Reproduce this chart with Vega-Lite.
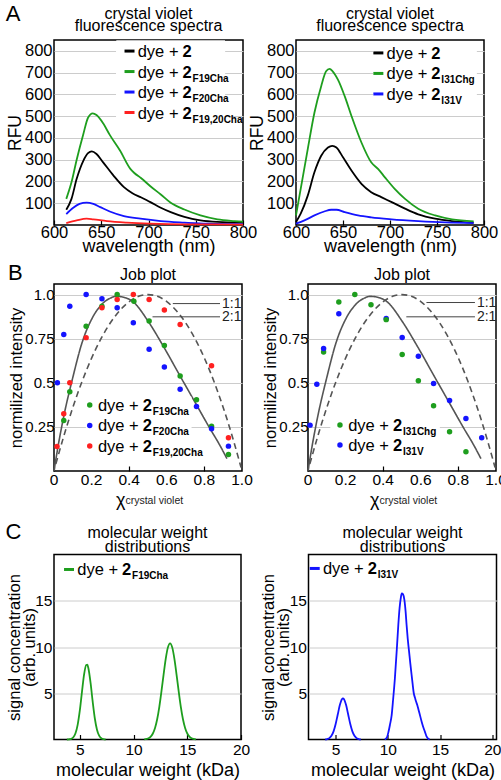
{
"$schema":"https://vega.github.io/schema/vega-lite/v6.json",
"background":"white",
"padding":{"left":5,"right":5,"top":2,"bottom":0},
"config":{
 "font":"Liberation Sans",
 "view":{"stroke":"#000","strokeWidth":1.5},
 "axis":{"labelFontSize":16.5,"labelColor":"#000","titleFontSize":17.5,"titleFontWeight":"normal","titleColor":"#000","domain":false,"ticks":false,"labelPadding":2,"titlePadding":0,"labelFlush":false,"labelOverlap":false},
 "axisX":{"grid":false,"ticks":true,"tickSize":-5,"tickColor":"#000","tickWidth":1.2,"labelPadding":4,"titleFontSize":18,"titlePadding":-3,"labelOverlap":false},
 "axisY":{"grid":true,"gridColor":"#cccccc","gridWidth":1},
 "title":{"fontSize":16,"fontWeight":"normal","lineHeight":12.5,"offset":6,"color":"#000","frame":"group"}
},
"datasets":{
 "specA1":[
  {"wl":613,"rfu":70,"s":"2"},{"wl":618.5,"rfu":120,"s":"2"},{"wl":624,"rfu":212,"s":"2"},{"wl":631,"rfu":295,"s":"2"},{"wl":636,"rfu":330,"s":"2"},{"wl":640,"rfu":338,"s":"2"},{"wl":645,"rfu":326,"s":"2"},{"wl":652,"rfu":288,"s":"2"},{"wl":663,"rfu":227,"s":"2"},{"wl":674,"rfu":174,"s":"2"},{"wl":683,"rfu":146,"s":"2"},{"wl":691.5,"rfu":128,"s":"2"},{"wl":702,"rfu":105,"s":"2"},{"wl":713,"rfu":79,"s":"2"},{"wl":723.5,"rfu":59,"s":"2"},{"wl":738,"rfu":37,"s":"2"},{"wl":755,"rfu":21,"s":"2"},{"wl":773,"rfu":14,"s":"2"},{"wl":800,"rfu":11,"s":"2"},
  {"wl":613,"rfu":120,"s":"2F19Cha"},{"wl":618.5,"rfu":196,"s":"2F19Cha"},{"wl":624,"rfu":300,"s":"2F19Cha"},{"wl":631,"rfu":417,"s":"2F19Cha"},{"wl":636,"rfu":493,"s":"2F19Cha"},{"wl":641,"rfu":513,"s":"2F19Cha"},{"wl":645,"rfu":505,"s":"2F19Cha"},{"wl":652,"rfu":467,"s":"2F19Cha"},{"wl":659,"rfu":414,"s":"2F19Cha"},{"wl":670,"rfu":341,"s":"2F19Cha"},{"wl":681,"rfu":257,"s":"2F19Cha"},{"wl":685,"rfu":239,"s":"2F19Cha"},{"wl":692,"rfu":216,"s":"2F19Cha"},{"wl":702,"rfu":178,"s":"2F19Cha"},{"wl":713,"rfu":140,"s":"2F19Cha"},{"wl":723.5,"rfu":102,"s":"2F19Cha"},{"wl":738,"rfu":71,"s":"2F19Cha"},{"wl":755,"rfu":44,"s":"2F19Cha"},{"wl":773,"rfu":26,"s":"2F19Cha"},{"wl":791,"rfu":18,"s":"2F19Cha"},{"wl":800,"rfu":15,"s":"2F19Cha"},
  {"wl":613,"rfu":50,"s":"2F20Cha"},{"wl":620,"rfu":78,"s":"2F20Cha"},{"wl":627,"rfu":97,"s":"2F20Cha"},{"wl":634.5,"rfu":103,"s":"2F20Cha"},{"wl":641.6,"rfu":97,"s":"2F20Cha"},{"wl":649,"rfu":82,"s":"2F20Cha"},{"wl":659,"rfu":62,"s":"2F20Cha"},{"wl":674,"rfu":41,"s":"2F20Cha"},{"wl":691.5,"rfu":29,"s":"2F20Cha"},{"wl":713,"rfu":18,"s":"2F20Cha"},{"wl":738,"rfu":11,"s":"2F20Cha"},{"wl":762,"rfu":6,"s":"2F20Cha"},{"wl":800,"rfu":4,"s":"2F20Cha"},
  {"wl":613,"rfu":9,"s":"2F19,20Cha"},{"wl":624,"rfu":21,"s":"2F19,20Cha"},{"wl":634.5,"rfu":29,"s":"2F19,20Cha"},{"wl":641.6,"rfu":26,"s":"2F19,20Cha"},{"wl":656,"rfu":18,"s":"2F19,20Cha"},{"wl":677,"rfu":11,"s":"2F19,20Cha"},{"wl":702,"rfu":6,"s":"2F19,20Cha"},{"wl":738,"rfu":3,"s":"2F19,20Cha"},{"wl":773,"rfu":3,"s":"2F19,20Cha"},{"wl":800,"rfu":2,"s":"2F19,20Cha"}
 ],
 "specA2":[
  {"wl":600,"rfu":14,"s":"2"},{"wl":605,"rfu":52,"s":"2"},{"wl":612.5,"rfu":135,"s":"2"},{"wl":619.6,"rfu":242,"s":"2"},{"wl":626.8,"rfu":318,"s":"2"},{"wl":634,"rfu":356,"s":"2"},{"wl":638.6,"rfu":364,"s":"2"},{"wl":643,"rfu":356,"s":"2"},{"wl":650,"rfu":311,"s":"2"},{"wl":659,"rfu":250,"s":"2"},{"wl":669.6,"rfu":189,"s":"2"},{"wl":680,"rfu":151,"s":"2"},{"wl":690.7,"rfu":128,"s":"2"},{"wl":701.8,"rfu":105,"s":"2"},{"wl":716,"rfu":75,"s":"2"},{"wl":730,"rfu":49,"s":"2"},{"wl":748,"rfu":29,"s":"2"},{"wl":766,"rfu":18,"s":"2"},{"wl":789,"rfu":11,"s":"2"},
  {"wl":600,"rfu":44,"s":"2I31Chg"},{"wl":605,"rfu":166,"s":"2I31Chg"},{"wl":612.5,"rfu":349,"s":"2I31Chg"},{"wl":619.6,"rfu":516,"s":"2I31Chg"},{"wl":626.8,"rfu":638,"s":"2I31Chg"},{"wl":632,"rfu":706,"s":"2I31Chg"},{"wl":635.7,"rfu":717,"s":"2I31Chg"},{"wl":639,"rfu":706,"s":"2I31Chg"},{"wl":644.6,"rfu":668,"s":"2I31Chg"},{"wl":651.8,"rfu":592,"s":"2I31Chg"},{"wl":659,"rfu":501,"s":"2I31Chg"},{"wl":669.6,"rfu":379,"s":"2I31Chg"},{"wl":680,"rfu":288,"s":"2I31Chg"},{"wl":687.5,"rfu":257,"s":"2I31Chg"},{"wl":694.6,"rfu":219,"s":"2I31Chg"},{"wl":705,"rfu":166,"s":"2I31Chg"},{"wl":716,"rfu":120,"s":"2I31Chg"},{"wl":730,"rfu":75,"s":"2I31Chg"},{"wl":748,"rfu":44,"s":"2I31Chg"},{"wl":766,"rfu":26,"s":"2I31Chg"},{"wl":789,"rfu":17,"s":"2I31Chg"},
  {"wl":600,"rfu":6,"s":"2I31V"},{"wl":609,"rfu":21,"s":"2I31V"},{"wl":619.6,"rfu":44,"s":"2I31V"},{"wl":630,"rfu":62,"s":"2I31V"},{"wl":637.5,"rfu":70,"s":"2I31V"},{"wl":643,"rfu":70,"s":"2I31V"},{"wl":651.8,"rfu":59,"s":"2I31V"},{"wl":666,"rfu":44,"s":"2I31V"},{"wl":680,"rfu":35,"s":"2I31V"},{"wl":701.8,"rfu":26,"s":"2I31V"},{"wl":730,"rfu":18,"s":"2I31V"},{"wl":759,"rfu":12,"s":"2I31V"},{"wl":789,"rfu":9,"s":"2I31V"}
 ],
 "legA1":[{"s":"2","sub":"","r":0},{"s":"2F19Cha","sub":"F19Cha","r":1},{"s":"2F20Cha","sub":"F20Cha","r":2},{"s":"2F19,20Cha","sub":"F19,20Cha","r":3}],
 "legA2":[{"s":"2","sub":"","r":0},{"s":"2I31Chg","sub":"I31Chg","r":1},{"s":"2I31V","sub":"I31V","r":2}],
 "legB1":[{"s":"2F19Cha","sub":"F19Cha","r":0},{"s":"2F20Cha","sub":"F20Cha","r":1},{"s":"2F19,20Cha","sub":"F19,20Cha","r":2}],
 "legB2":[{"s":"2I31Chg","sub":"I31Chg","r":0},{"s":"2I31V","sub":"I31V","r":1}],
 "legC1":[{"s":"2F19Cha","sub":"F19Cha","r":0}],
 "legC2":[{"s":"2I31V","sub":"I31V","r":0}],
 "ticksB":[{"v":0,"l":"0"},{"v":0.2,"l":"0.2"},{"v":0.4,"l":"0.4"},{"v":0.6,"l":"0.6"},{"v":0.8,"l":"0.8"},{"v":1,"l":"1.0"}],
 "curvesB":[
  {"x":0,"y":0,"k":"2:1"},{"x":0.02,"y":0.13,"k":"2:1"},{"x":0.05,"y":0.3,"k":"2:1"},{"x":0.1,"y":0.53,"k":"2:1"},{"x":0.15,"y":0.73,"k":"2:1"},{"x":0.2,"y":0.86,"k":"2:1"},{"x":0.25,"y":0.94,"k":"2:1"},{"x":0.3,"y":0.98,"k":"2:1"},{"x":0.33,"y":0.99,"k":"2:1"},{"x":0.37,"y":0.985,"k":"2:1"},{"x":0.42,"y":0.96,"k":"2:1"},{"x":0.5,"y":0.85,"k":"2:1"},{"x":0.58,"y":0.71,"k":"2:1"},{"x":0.67,"y":0.54,"k":"2:1"},{"x":0.75,"y":0.39,"k":"2:1"},{"x":0.83,"y":0.24,"k":"2:1"},{"x":0.88,"y":0.15,"k":"2:1"},{"x":0.92,"y":0.07,"k":"2:1"},
  {"x":0.01,"y":0.04,"k":"1:1"},{"x":0.05,"y":0.19,"k":"1:1"},{"x":0.1,"y":0.36,"k":"1:1"},{"x":0.15,"y":0.51,"k":"1:1"},{"x":0.2,"y":0.64,"k":"1:1"},{"x":0.25,"y":0.75,"k":"1:1"},{"x":0.3,"y":0.84,"k":"1:1"},{"x":0.35,"y":0.91,"k":"1:1"},{"x":0.4,"y":0.96,"k":"1:1"},{"x":0.45,"y":0.99,"k":"1:1"},{"x":0.5,"y":1.0,"k":"1:1"},{"x":0.55,"y":0.99,"k":"1:1"},{"x":0.6,"y":0.96,"k":"1:1"},{"x":0.65,"y":0.91,"k":"1:1"},{"x":0.7,"y":0.84,"k":"1:1"},{"x":0.75,"y":0.75,"k":"1:1"},{"x":0.8,"y":0.64,"k":"1:1"},{"x":0.85,"y":0.51,"k":"1:1"},{"x":0.9,"y":0.36,"k":"1:1"},{"x":0.95,"y":0.19,"k":"1:1"},{"x":0.995,"y":0.02,"k":"1:1"}
 ],
 "ptsB1":[
  {"x":0.052,"y":0.286,"s":"2F19Cha"},{"x":0.084,"y":0.449,"s":"2F19Cha"},{"x":0.171,"y":0.821,"s":"2F19Cha"},{"x":0.255,"y":0.934,"s":"2F19Cha"},{"x":0.336,"y":1.0,"s":"2F19Cha"},{"x":0.425,"y":0.962,"s":"2F19Cha"},{"x":0.506,"y":0.85,"s":"2F19Cha"},{"x":0.587,"y":0.712,"s":"2F19Cha"},{"x":0.671,"y":0.539,"s":"2F19Cha"},{"x":0.758,"y":0.404,"s":"2F19Cha"},{"x":0.838,"y":0.254,"s":"2F19Cha"},{"x":0.928,"y":0.094,"s":"2F19Cha"},
  {"x":0.018,"y":0.5,"s":"2F20Cha"},{"x":0.052,"y":0.774,"s":"2F20Cha"},{"x":0.084,"y":0.934,"s":"2F20Cha"},{"x":0.171,"y":1.0,"s":"2F20Cha"},{"x":0.255,"y":0.977,"s":"2F20Cha"},{"x":0.336,"y":0.925,"s":"2F20Cha"},{"x":0.422,"y":0.84,"s":"2F20Cha"},{"x":0.506,"y":0.69,"s":"2F20Cha"},{"x":0.587,"y":0.59,"s":"2F20Cha"},{"x":0.671,"y":0.464,"s":"2F20Cha"},{"x":0.758,"y":0.365,"s":"2F20Cha"},{"x":0.838,"y":0.239,"s":"2F20Cha"},{"x":0.928,"y":0.141,"s":"2F20Cha"},
  {"x":0.016,"y":0.139,"s":"2F19,20Cha"},{"x":0.052,"y":0.325,"s":"2F19,20Cha"},{"x":0.084,"y":0.5,"s":"2F19,20Cha"},{"x":0.171,"y":0.756,"s":"2F19,20Cha"},{"x":0.255,"y":0.925,"s":"2F19,20Cha"},{"x":0.336,"y":0.972,"s":"2F19,20Cha"},{"x":0.422,"y":1.0,"s":"2F19,20Cha"},{"x":0.506,"y":0.972,"s":"2F19,20Cha"},{"x":0.587,"y":0.912,"s":"2F19,20Cha"},{"x":0.671,"y":0.831,"s":"2F19,20Cha"},{"x":0.838,"y":0.596,"s":"2F19,20Cha"},{"x":0.928,"y":0.188,"s":"2F19,20Cha"}
 ],
 "ptsB2":[
  {"x":0.083,"y":0.675,"s":"2I31Chg"},{"x":0.164,"y":0.958,"s":"2I31Chg"},{"x":0.249,"y":1.0,"s":"2I31Chg"},{"x":0.335,"y":0.943,"s":"2I31Chg"},{"x":0.501,"y":0.66,"s":"2I31Chg"},{"x":0.587,"y":0.511,"s":"2I31Chg"},{"x":0.668,"y":0.37,"s":"2I31Chg"},{"x":0.753,"y":0.223,"s":"2I31Chg"},{"x":0.84,"y":0.109,"s":"2I31Chg"},
  {"x":0.011,"y":0.26,"s":"2I31V"},{"x":0.047,"y":0.492,"s":"2I31V"},{"x":0.083,"y":0.694,"s":"2I31V"},{"x":0.164,"y":0.892,"s":"2I31V"},{"x":0.416,"y":0.864,"s":"2I31V"},{"x":0.501,"y":0.757,"s":"2I31V"},{"x":0.587,"y":0.651,"s":"2I31V"},{"x":0.668,"y":0.496,"s":"2I31V"},{"x":0.753,"y":0.4,"s":"2I31V"},{"x":0.84,"y":0.298,"s":"2I31V"},{"x":0.924,"y":0.189,"s":"2I31V"},
  {"x":0.416,"y":0.858,"s":"2I31Chg"}
 ],
 "annB1":[{"x":0.632,"x2":0.883,"y":0.949,"t":"1:1"},{"x":0.524,"x2":0.883,"y":0.874,"t":"2:1"}],
 "annB2":[{"x":0.63,"x2":0.888,"y":0.955,"t":"1:1"},{"x":0.523,"x2":0.888,"y":0.874,"t":"2:1"}],
 "subB":[{"t":"crystal violet"}],
 "mwC1":[
  {"m":3.8,"c":0,"p":"a"},{"m":4.0,"c":0.02,"p":"a"},{"m":4.2,"c":0.07,"p":"a"},{"m":4.4,"c":0.24,"p":"a"},{"m":4.6,"c":0.67,"p":"a"},{"m":4.8,"c":1.58,"p":"a"},{"m":5.0,"c":3.11,"p":"a"},{"m":5.2,"c":5.12,"p":"a"},{"m":5.4,"c":7.03,"p":"a"},{"m":5.6,"c":8.05,"p":"a"},{"m":5.7,"c":8.08,"p":"a"},{"m":5.8,"c":7.7,"p":"a"},{"m":6.0,"c":6.14,"p":"a"},{"m":6.2,"c":4.09,"p":"a"},{"m":6.4,"c":2.27,"p":"a"},{"m":6.6,"c":1.05,"p":"a"},{"m":6.8,"c":0.41,"p":"a"},{"m":7.0,"c":0.13,"p":"a"},{"m":7.2,"c":0.03,"p":"a"},{"m":7.4,"c":0,"p":"a"},
  {"m":11.0,"c":0.01,"p":"b"},{"m":11.2,"c":0.06,"p":"b"},{"m":11.4,"c":0.14,"p":"b"},{"m":11.6,"c":0.31,"p":"b"},{"m":11.8,"c":0.65,"p":"b"},{"m":12.0,"c":1.25,"p":"b"},{"m":12.2,"c":2.19,"p":"b"},{"m":12.4,"c":3.53,"p":"b"},{"m":12.6,"c":5.22,"p":"b"},{"m":12.8,"c":7.05,"p":"b"},{"m":13.0,"c":8.75,"p":"b"},{"m":13.2,"c":9.96,"p":"b"},{"m":13.4,"c":10.4,"p":"b"},{"m":13.6,"c":9.96,"p":"b"},{"m":13.8,"c":8.75,"p":"b"},{"m":14.0,"c":7.05,"p":"b"},{"m":14.2,"c":5.22,"p":"b"},{"m":14.4,"c":3.53,"p":"b"},{"m":14.6,"c":2.19,"p":"b"},{"m":14.8,"c":1.25,"p":"b"},{"m":15.0,"c":0.65,"p":"b"},{"m":15.2,"c":0.31,"p":"b"},{"m":15.4,"c":0.14,"p":"b"},{"m":15.6,"c":0.06,"p":"b"},{"m":15.8,"c":0.01,"p":"b"}
 ],
 "mwC2":[
  {"m":4.0,"c":0,"p":"a"},{"m":4.2,"c":0.05,"p":"a"},{"m":4.4,"c":0.15,"p":"a"},{"m":4.6,"c":0.4,"p":"a"},{"m":4.8,"c":0.88,"p":"a"},{"m":5.0,"c":1.67,"p":"a"},{"m":5.2,"c":2.7,"p":"a"},{"m":5.4,"c":3.72,"p":"a"},{"m":5.6,"c":4.36,"p":"a"},{"m":5.7,"c":4.45,"p":"a"},{"m":5.8,"c":4.36,"p":"a"},{"m":6.0,"c":3.72,"p":"a"},{"m":6.2,"c":2.7,"p":"a"},{"m":6.4,"c":1.67,"p":"a"},{"m":6.6,"c":0.88,"p":"a"},{"m":6.8,"c":0.4,"p":"a"},{"m":7.0,"c":0.15,"p":"a"},{"m":7.2,"c":0.05,"p":"a"},{"m":7.4,"c":0,"p":"a"},
  {"m":9.7,"c":0,"p":"b"},{"m":9.9,"c":0.2,"p":"b"},{"m":10.06,"c":0.83,"p":"b"},{"m":10.2,"c":1.6,"p":"b"},{"m":10.36,"c":2.6,"p":"b"},{"m":10.5,"c":4.3,"p":"b"},{"m":10.67,"c":6.6,"p":"b"},{"m":10.88,"c":10.2,"p":"b"},{"m":11.0,"c":12.4,"p":"b"},{"m":11.12,"c":14.2,"p":"b"},{"m":11.25,"c":15.4,"p":"b"},{"m":11.33,"c":15.8,"p":"b"},{"m":11.45,"c":15.7,"p":"b"},{"m":11.58,"c":15.1,"p":"b"},{"m":11.7,"c":13.8,"p":"b"},{"m":11.79,"c":12.4,"p":"b"},{"m":11.9,"c":10.9,"p":"b"},{"m":12.03,"c":9.5,"p":"b"},{"m":12.15,"c":8.2,"p":"b"},{"m":12.27,"c":7.0,"p":"b"},{"m":12.38,"c":5.9,"p":"b"},{"m":12.48,"c":5.0,"p":"b"},{"m":12.6,"c":4.5,"p":"b"},{"m":12.7,"c":4.1,"p":"b"},{"m":12.82,"c":3.7,"p":"b"},{"m":12.94,"c":3.2,"p":"b"},{"m":13.1,"c":2.5,"p":"b"},{"m":13.24,"c":1.9,"p":"b"},{"m":13.4,"c":1.3,"p":"b"},{"m":13.55,"c":0.83,"p":"b"},{"m":13.7,"c":0.35,"p":"b"},{"m":13.85,"c":0.1,"p":"b"},{"m":14.0,"c":0,"p":"b"}
 ]
},
"vconcat":[
 {"vconcat":[
  {"title":{"text":"A","anchor":"start","frame":"bounds","fontSize":22,"offset":-21},
   "hconcat":[
    {"width":189,"height":185,
     "title":{"text":["crystal violet","fluorescence spectra"]},
     "layer":[
      {"data":{"name":"specA1"},
       "mark":{"type":"line","interpolate":"monotone","strokeWidth":1.8},
       "encoding":{
        "x":{"field":"wl","type":"quantitative","scale":{"domain":[600,800],"nice":false,"zero":false},"axis":{"values":[600,650,700,750,800],"title":"wavelength (nm)","labelOverlap":false}},
        "y":{"field":"rfu","type":"quantitative","scale":{"domain":[0,850],"nice":false},"axis":{"values":[100,200,300,400,500,600,700,800],"title":"RFU"}},
        "color":{"field":"s","type":"nominal","scale":{"domain":["2","2F19Cha","2F20Cha","2F19,20Cha"],"range":["#000000","#1e9e1e","#1414ff","#ff2020"]},"legend":null}
       }},
      {"data":{"name":"legA1"},
       "encoding":{
        "x":{"datum":736,"type":"quantitative"},
        "y":{"field":"r","type":"quantitative","scale":{"domain":[-0.54,8.49],"reverse":true,"nice":false,"zero":false},"axis":null},
        "color":{"field":"s","type":"nominal","legend":null}
       },
       "layer":[
        {"mark":{"type":"rect"},"encoding":{"x":{"datum":666},"x2":{"datum":781},"y":{"datum":-0.5},"y2":{"datum":3.55},"color":{"value":"#ffffff"}}},
        {"mark":{"type":"point","shape":"M-1,-0.3L1,-0.3L1,0.3L-1,0.3Z","filled":true,"size":100,"opacity":1,"xOffset":-53}},
        {"mark":{"type":"text","text":"dye +","align":"right","baseline":"middle","dx":-4,"dy":1,"fontSize":16.5},"encoding":{"color":{"value":"#000"}}},
        {"mark":{"type":"text","text":"2","align":"left","baseline":"middle","dy":1,"fontSize":16.5,"fontWeight":"bold"},"encoding":{"color":{"value":"#000"}}},
        {"mark":{"type":"text","align":"left","baseline":"middle","dx":10,"dy":7,"fontSize":10,"fontWeight":"bold"},"encoding":{"text":{"field":"sub"},"color":{"value":"#000"}}}
       ]}
     ],
     "resolve":{"scale":{"y":"independent"}}},
    {"width":188,"height":185,
     "title":{"text":["crystal violet","fluorescence spectra"]},
     "layer":[
      {"data":{"name":"specA2"},
       "mark":{"type":"line","interpolate":"monotone","strokeWidth":1.8},
       "encoding":{
        "x":{"field":"wl","type":"quantitative","scale":{"domain":[600,800],"nice":false,"zero":false},"axis":{"values":[600,650,700,750,800],"title":"wavelength (nm)","labelOverlap":false}},
        "y":{"field":"rfu","type":"quantitative","scale":{"domain":[0,850],"nice":false},"axis":{"values":[100,200,300,400,500,600,700,800],"title":"RFU"}},
        "color":{"field":"s","type":"nominal","scale":{"domain":["2","2I31Chg","2I31V"],"range":["#000000","#1e9e1e","#1414ff"]},"legend":null}
       }},
      {"data":{"name":"legA2"},
       "encoding":{
        "x":{"datum":744,"type":"quantitative"},
        "y":{"field":"r","type":"quantitative","scale":{"domain":[-0.63,8.39],"reverse":true,"nice":false,"zero":false},"axis":null},
        "color":{"field":"s","type":"nominal","legend":null}
       },
       "layer":[
        {"mark":{"type":"rect"},"encoding":{"x":{"datum":682},"x2":{"datum":792},"y":{"datum":-0.5},"y2":{"datum":2.55},"color":{"value":"#ffffff"}}},
        {"mark":{"type":"point","shape":"M-1,-0.3L1,-0.3L1,0.3L-1,0.3Z","filled":true,"size":100,"opacity":1,"xOffset":-53}},
        {"mark":{"type":"text","text":"dye +","align":"right","baseline":"middle","dx":-4,"dy":1,"fontSize":16.5},"encoding":{"color":{"value":"#000"}}},
        {"mark":{"type":"text","text":"2","align":"left","baseline":"middle","dy":1,"fontSize":16.5,"fontWeight":"bold"},"encoding":{"color":{"value":"#000"}}},
        {"mark":{"type":"text","align":"left","baseline":"middle","dx":10,"dy":7,"fontSize":10,"fontWeight":"bold"},"encoding":{"text":{"field":"sub"},"color":{"value":"#000"}}}
       ]}
     ],
     "resolve":{"scale":{"y":"independent"}}}
   ],
   "spacing":-11,"resolve":{"scale":{"color":"independent","strokeDash":"independent"}}},
  {"title":{"text":"B","anchor":"start","frame":"bounds","fontSize":22,"offset":-19},
   "hconcat":[
    {"width":188,"height":187,
     "title":{"text":"Job plot","offset":1},
     "layer":[
      {"data":{"name":"curvesB"},
       "mark":{"type":"line","interpolate":"monotone","strokeWidth":1.6,"color":"#555555"},
       "encoding":{
        "x":{"field":"x","type":"quantitative","scale":{"domain":[0,1],"nice":false},"axis":{"values":[0,0.2,0.4,0.6,0.8,1],"labels":false,"title":"χ","titleFontSize":18,"titleAlign":"right","titleX":71,"titlePadding":20}},
        "y":{"field":"y","type":"quantitative","scale":{"domain":[0,1.06],"nice":false},"axis":{"values":[0.25,0.5,0.75,1],"labelExpr":"datum.value == 1 ? '1.0' : format(datum.value, '.2~f')","labelFontSize":15,"labelPadding":0,"title":"normilized intensity","titleFontSize":16.5}},
        "strokeDash":{"field":"k","type":"nominal","scale":{"domain":["2:1","1:1"],"range":[[1,0],[6,4]]},"legend":null}
       }},
      {"data":{"name":"ticksB"},"mark":{"type":"text","align":"center","baseline":"top","dy":2,"fontSize":15.5,"color":"#000"},
       "encoding":{"x":{"field":"v","type":"quantitative"},"y":{"datum":0,"type":"quantitative","scale":{"domain":[0,1.06],"nice":false},"axis":null},"text":{"field":"l"}}},
      {"data":{"name":"annB1"},"mark":{"type":"rule","color":"#444444","strokeWidth":1},
       "encoding":{"x":{"field":"x","type":"quantitative"},"x2":{"field":"x2"},"y":{"field":"y","type":"quantitative","scale":{"domain":[0,1.06],"nice":false},"axis":null}}},
      {"data":{"name":"annB1"},"mark":{"type":"text","align":"left","baseline":"middle","dx":2,"fontSize":14,"color":"#222222"},
       "encoding":{"x":{"field":"x2","type":"quantitative"},"y":{"field":"y","type":"quantitative","scale":{"domain":[0,1.06],"nice":false},"axis":null},"text":{"field":"t"}}},
      {"data":{"name":"subB"},"mark":{"type":"text","align":"left","baseline":"middle","fontSize":10.5,"color":"#222222"},
       "encoding":{"x":{"datum":0.38,"type":"quantitative"},"y":{"datum":-0.17,"type":"quantitative","scale":{"domain":[0,1.06],"nice":false},"axis":null},"text":{"field":"t"}}},
      {"data":{"name":"ptsB1"},"mark":{"type":"circle","size":30,"opacity":1},
       "encoding":{"x":{"field":"x","type":"quantitative"},"y":{"field":"y","type":"quantitative","scale":{"domain":[0,1.06],"nice":false},"axis":null},
        "color":{"field":"s","type":"nominal","scale":{"domain":["2F19Cha","2F20Cha","2F19,20Cha"],"range":["#1e9e1e","#1414ff","#ff2020"]},"legend":null}}},
      {"data":{"name":"legB1"},"mark":{"type":"rect"},
       "encoding":{"x":{"datum":0.17,"type":"quantitative"},"x2":{"datum":0.73},"y":{"datum":-0.4,"type":"quantitative","scale":{"domain":[-5.9,3.22],"reverse":true,"nice":false,"zero":false},"axis":null},"y2":{"datum":2.4},"color":{"value":"#ffffff"}}},
      {"data":{"name":"legB1"},"mark":{"type":"circle","size":30,"opacity":1,"xOffset":-53},
       "encoding":{"x":{"datum":0.472,"type":"quantitative"},"y":{"field":"r","type":"quantitative","scale":{"domain":[-5.9,3.22],"reverse":true,"nice":false,"zero":false},"axis":null},"color":{"field":"s","type":"nominal","legend":null}}},
      {"data":{"name":"legB1"},"mark":{"type":"text","text":"dye +","align":"right","baseline":"middle","dx":-4,"dy":1,"fontSize":16.5,"color":"#000"},
       "encoding":{"x":{"datum":0.472,"type":"quantitative"},"y":{"field":"r","type":"quantitative","scale":{"domain":[-5.9,3.22],"reverse":true,"nice":false,"zero":false},"axis":null}}},
      {"data":{"name":"legB1"},"mark":{"type":"text","text":"2","align":"left","baseline":"middle","dy":1,"fontSize":16.5,"fontWeight":"bold","color":"#000"},
       "encoding":{"x":{"datum":0.472,"type":"quantitative"},"y":{"field":"r","type":"quantitative","scale":{"domain":[-5.9,3.22],"reverse":true,"nice":false,"zero":false},"axis":null}}},
      {"data":{"name":"legB1"},"mark":{"type":"text","align":"left","baseline":"middle","dx":10,"dy":7,"fontSize":10,"fontWeight":"bold","color":"#000"},
       "encoding":{"x":{"datum":0.472,"type":"quantitative"},"y":{"field":"r","type":"quantitative","scale":{"domain":[-5.9,3.22],"reverse":true,"nice":false,"zero":false},"axis":null},"text":{"field":"sub"}}}
     ],
     "resolve":{"scale":{"y":"independent"}}},
    {"width":188,"height":187,
     "title":{"text":"Job plot","offset":1},
     "layer":[
      {"data":{"name":"curvesB"},
       "mark":{"type":"line","interpolate":"monotone","strokeWidth":1.6,"color":"#555555"},
       "encoding":{
        "x":{"field":"x","type":"quantitative","scale":{"domain":[0,1],"nice":false},"axis":{"values":[0,0.2,0.4,0.6,0.8,1],"labels":false,"title":"χ","titleFontSize":18,"titleAlign":"right","titleX":71,"titlePadding":20}},
        "y":{"field":"y","type":"quantitative","scale":{"domain":[0,1.06],"nice":false},"axis":{"values":[0.25,0.5,0.75,1],"labelExpr":"datum.value == 1 ? '1.0' : format(datum.value, '.2~f')","labelFontSize":15,"labelPadding":0,"title":"normilized intensity","titleFontSize":16.5}},
        "strokeDash":{"field":"k","type":"nominal","scale":{"domain":["2:1","1:1"],"range":[[1,0],[6,4]]},"legend":null}
       }},
      {"data":{"name":"ticksB"},"mark":{"type":"text","align":"center","baseline":"top","dy":2,"fontSize":15.5,"color":"#000"},
       "encoding":{"x":{"field":"v","type":"quantitative"},"y":{"datum":0,"type":"quantitative","scale":{"domain":[0,1.06],"nice":false},"axis":null},"text":{"field":"l"}}},
      {"data":{"name":"annB2"},"mark":{"type":"rule","color":"#444444","strokeWidth":1},
       "encoding":{"x":{"field":"x","type":"quantitative"},"x2":{"field":"x2"},"y":{"field":"y","type":"quantitative","scale":{"domain":[0,1.06],"nice":false},"axis":null}}},
      {"data":{"name":"annB2"},"mark":{"type":"text","align":"left","baseline":"middle","dx":2,"fontSize":14,"color":"#222222"},
       "encoding":{"x":{"field":"x2","type":"quantitative"},"y":{"field":"y","type":"quantitative","scale":{"domain":[0,1.06],"nice":false},"axis":null},"text":{"field":"t"}}},
      {"data":{"name":"subB"},"mark":{"type":"text","align":"left","baseline":"middle","fontSize":10.5,"color":"#222222"},
       "encoding":{"x":{"datum":0.38,"type":"quantitative"},"y":{"datum":-0.17,"type":"quantitative","scale":{"domain":[0,1.06],"nice":false},"axis":null},"text":{"field":"t"}}},
      {"data":{"name":"ptsB2"},"mark":{"type":"circle","size":30,"opacity":1},
       "encoding":{"x":{"field":"x","type":"quantitative"},"y":{"field":"y","type":"quantitative","scale":{"domain":[0,1.06],"nice":false},"axis":null},
        "color":{"field":"s","type":"nominal","scale":{"domain":["2I31Chg","2I31V"],"range":["#1e9e1e","#1414ff"]},"legend":null}}},
      {"data":{"name":"legB2"},"mark":{"type":"rect"},
       "encoding":{"x":{"datum":0.12,"type":"quantitative"},"x2":{"datum":0.7},"y":{"datum":-0.45,"type":"quantitative","scale":{"domain":[-7.05,2.3],"reverse":true,"nice":false,"zero":false},"axis":null},"y2":{"datum":1.45},"color":{"value":"#ffffff"}}},
      {"data":{"name":"legB2"},"mark":{"type":"circle","size":30,"opacity":1,"xOffset":-53},
       "encoding":{"x":{"datum":0.452,"type":"quantitative"},"y":{"field":"r","type":"quantitative","scale":{"domain":[-7.05,2.3],"reverse":true,"nice":false,"zero":false},"axis":null},"color":{"field":"s","type":"nominal","legend":null}}},
      {"data":{"name":"legB2"},"mark":{"type":"text","text":"dye +","align":"right","baseline":"middle","dx":-4,"dy":1,"fontSize":16.5,"color":"#000"},
       "encoding":{"x":{"datum":0.452,"type":"quantitative"},"y":{"field":"r","type":"quantitative","scale":{"domain":[-7.05,2.3],"reverse":true,"nice":false,"zero":false},"axis":null}}},
      {"data":{"name":"legB2"},"mark":{"type":"text","text":"2","align":"left","baseline":"middle","dy":1,"fontSize":16.5,"fontWeight":"bold","color":"#000"},
       "encoding":{"x":{"datum":0.452,"type":"quantitative"},"y":{"field":"r","type":"quantitative","scale":{"domain":[-7.05,2.3],"reverse":true,"nice":false,"zero":false},"axis":null}}},
      {"data":{"name":"legB2"},"mark":{"type":"text","align":"left","baseline":"middle","dx":10,"dy":7,"fontSize":10,"fontWeight":"bold","color":"#000"},
       "encoding":{"x":{"datum":0.452,"type":"quantitative"},"y":{"field":"r","type":"quantitative","scale":{"domain":[-7.05,2.3],"reverse":true,"nice":false,"zero":false},"axis":null},"text":{"field":"sub"}}}
     ],
     "resolve":{"scale":{"y":"independent"}}}
   ],
   "spacing":8,"resolve":{"scale":{"color":"independent","strokeDash":"independent"}}}
 ],"spacing":5,"resolve":{"scale":{"color":"independent","strokeDash":"independent"}}},
 {"title":{"text":"C","anchor":"start","frame":"bounds","fontSize":22,"offset":-20},
  "hconcat":[
   {"width":187,"height":185,
    "title":{"text":["molecular weight","distributions"],"offset":0,"lineHeight":14},
    "layer":[
     {"data":{"name":"mwC1"},
      "mark":{"type":"line","interpolate":"monotone","strokeWidth":1.8},
      "encoding":{
       "x":{"field":"m","type":"quantitative","scale":{"domain":[2.6,20],"nice":false,"zero":false},"axis":{"values":[5,10,15,20],"title":"molecular weight (kDa)","labelOverlap":false,"labelFontSize":15.5,"labelPadding":8,"titlePadding":3}},
       "y":{"field":"c","type":"quantitative","scale":{"domain":[0,20],"nice":false},"axis":{"values":[5,10,15],"labelFontSize":15.5,"title":["signal concentration","(arb. units)"],"titleFontSize":16.5,"titleLineHeight":15,"titlePadding":-2.5}},
       "detail":{"field":"p"},
       "color":{"datum":"2F19Cha","type":"nominal","scale":{"domain":["2F19Cha"],"range":["#1e9e1e"]},"legend":null}
      }},
     {"data":{"name":"legC1"},
      "encoding":{
       "x":{"datum":8.93,"type":"quantitative"},
       "y":{"field":"r","type":"quantitative","scale":{"domain":[-0.73,8.29],"reverse":true,"nice":false,"zero":false},"axis":null},
       "color":{"field":"s","type":"nominal","legend":null}
      },
      "layer":[
       {"mark":{"type":"point","shape":"M-1,-0.3L1,-0.3L1,0.3L-1,0.3Z","filled":true,"size":100,"opacity":1,"xOffset":-53}},
       {"mark":{"type":"text","text":"dye +","align":"right","baseline":"middle","dx":-4,"dy":1,"fontSize":16.5},"encoding":{"color":{"value":"#000"}}},
       {"mark":{"type":"text","text":"2","align":"left","baseline":"middle","dy":1,"fontSize":16.5,"fontWeight":"bold"},"encoding":{"color":{"value":"#000"}}},
       {"mark":{"type":"text","align":"left","baseline":"middle","dx":10,"dy":7,"fontSize":10,"fontWeight":"bold"},"encoding":{"text":{"field":"sub"},"color":{"value":"#000"}}}
      ]}
    ],
    "resolve":{"scale":{"y":"independent"}}},
   {"width":188,"height":185,
    "title":{"text":["molecular weight","distributions"],"offset":0,"lineHeight":14},
    "layer":[
     {"data":{"name":"mwC2"},
      "mark":{"type":"line","interpolate":"monotone","strokeWidth":1.8},
      "encoding":{
       "x":{"field":"m","type":"quantitative","scale":{"domain":[2.4,20.4],"nice":false,"zero":false},"axis":{"values":[5,10,15,20],"title":"molecular weight (kDa)","labelOverlap":false,"labelFontSize":15.5,"labelPadding":8,"titlePadding":3}},
       "y":{"field":"c","type":"quantitative","scale":{"domain":[0,20],"nice":false},"axis":{"values":[5,10,15],"labelFontSize":15.5,"title":["signal concentration","(arb. units)"],"titleFontSize":16.5,"titleLineHeight":15,"titlePadding":-2.5}},
       "detail":{"field":"p"},
       "color":{"datum":"2I31V","type":"nominal","scale":{"domain":["2I31V"],"range":["#1414ff"]},"legend":null}
      }},
     {"data":{"name":"legC2"},
      "encoding":{
       "x":{"datum":8.07,"type":"quantitative"},
       "y":{"field":"r","type":"quantitative","scale":{"domain":[-0.68,8.34],"reverse":true,"nice":false,"zero":false},"axis":null},
       "color":{"field":"s","type":"nominal","legend":null}
      },
      "layer":[
       {"mark":{"type":"point","shape":"M-1,-0.3L1,-0.3L1,0.3L-1,0.3Z","filled":true,"size":100,"opacity":1,"xOffset":-53}},
       {"mark":{"type":"text","text":"dye +","align":"right","baseline":"middle","dx":-4,"dy":1,"fontSize":16.5},"encoding":{"color":{"value":"#000"}}},
       {"mark":{"type":"text","text":"2","align":"left","baseline":"middle","dy":1,"fontSize":16.5,"fontWeight":"bold"},"encoding":{"color":{"value":"#000"}}},
       {"mark":{"type":"text","align":"left","baseline":"middle","dx":10,"dy":7,"fontSize":10,"fontWeight":"bold"},"encoding":{"text":{"field":"sub"},"color":{"value":"#000"}}}
      ]}
    ],
    "resolve":{"scale":{"y":"independent"}}}
  ],
  "spacing":8.5,"resolve":{"scale":{"color":"independent","strokeDash":"independent"}}}
],
"spacing":9.5,
"resolve":{"scale":{"color":"independent","strokeDash":"independent"}}
}
